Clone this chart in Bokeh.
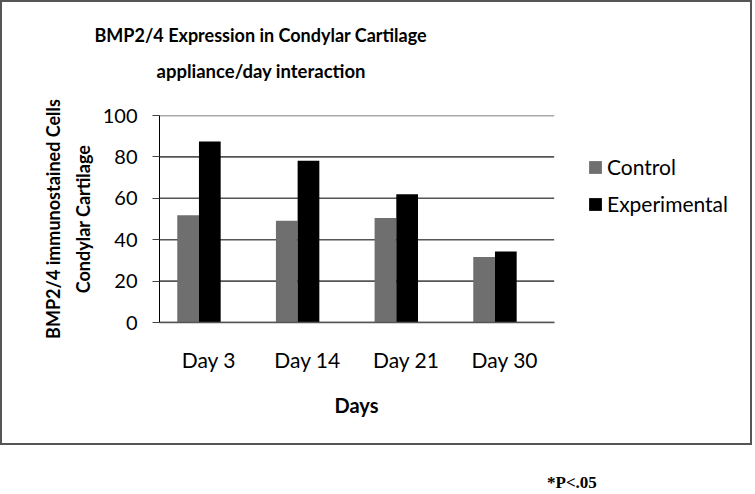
from bokeh.plotting import figure
from bokeh.layouts import column
from bokeh.models import (ColumnDataSource, Range1d, Legend, LegendItem,
                          FixedTicker, LinearAxis, Title, Div)
from bokeh.transform import dodge
from bokeh.embed import file_html
from bokeh.resources import INLINE

# ---- data ----
days = ["Day 3", "Day 14", "Day 21", "Day 30"]
control = [51.8, 49.2, 50.5, 31.7]
experimental = [87.4, 78.2, 62.0, 34.3]
y_ticks = [0, 20, 40, 60, 80, 100]
series_names = ["Control", "Experimental"]

FONT = "Lato"
W, H = 752, 445
FRAME_LEFT, FRAME_RIGHT_PAD = 157, 4
CAT_PX = 98.0                      # pixel width of one category slot
frame_w = W - 4 - FRAME_LEFT - FRAME_RIGHT_PAD
n = len(days)
idx = list(range(n))

src = ColumnDataSource(dict(idx=idx, day=days, control=control, experimental=experimental))
grid_src = ColumnDataSource(dict(y=y_ticks))

p = figure(width=W, height=H, output_backend="svg", toolbar_location=None,
           x_range=Range1d(-0.5, -0.5 + frame_w / CAT_PX),
           y_range=Range1d(0, 100),
           min_border_left=FRAME_LEFT, min_border_right=FRAME_RIGHT_PAD,
           min_border_top=113, min_border_bottom=125)
p.styles = {"border": "2px solid #555555"}
p.outline_line_color = None
p.background_fill_color = "white"
p.border_fill_color = "white"
p.xgrid.grid_line_color = None
p.ygrid.grid_line_color = None

# horizontal gridlines spanning only the category area
p.segment(x0=-0.5, x1=n - 0.5, y0="y", y1="y", source=grid_src,
          line_color="#555555", line_width=1.6)

r1 = p.vbar(x=dodge("idx", -0.21), top="control", width=0.22,
            source=src, fill_color="#6f6f6f", line_color=None)
r2 = p.vbar(x=dodge("idx", 0.01), top="experimental", width=0.22,
            source=src, fill_color="#000000", line_color=None)

# ---- y axis ----
p.yaxis.ticker = FixedTicker(ticks=y_ticks)
p.yaxis.major_tick_out = 7
p.yaxis.major_tick_in = 0
p.yaxis.minor_tick_line_color = None
p.yaxis.axis_line_color = "#000000"
p.yaxis.major_tick_line_color = "#444444"
p.yaxis.major_label_text_font = FONT
p.yaxis.major_label_text_font_size = "20px"
p.yaxis.major_label_text_color = "#000000"
p.yaxis.major_label_standoff = 15
p.yaxis.axis_label = "Condylar Cartilage"
p.yaxis.axis_label_text_font = FONT
p.yaxis.axis_label_text_font_style = "bold"
p.yaxis.axis_label_text_font_size = "18px"
p.yaxis.axis_label_text_color = "#000000"
p.yaxis.axis_label_standoff = 6

y2 = LinearAxis(ticker=FixedTicker(ticks=[]), axis_line_color=None,
                major_tick_line_color=None, minor_tick_line_color=None,
                major_tick_out=0, major_tick_in=0, major_label_text_font_size="0px",
                axis_label="BMP2/4 immunostained Cells", axis_label_text_font=FONT,
                axis_label_text_font_style="bold", axis_label_text_font_size="18px",
                axis_label_text_color="#000000", axis_label_standoff=5)
p.add_layout(y2, "left")

# ---- x axis ----
p.xaxis.ticker = FixedTicker(ticks=idx)
p.xaxis.major_label_overrides = {i: d for i, d in zip(idx, days)}
p.xaxis.bounds = (-0.5, n - 0.5)
p.xaxis.major_tick_line_color = None
p.xaxis.major_tick_out = 0
p.xaxis.major_tick_in = 0
p.xaxis.minor_tick_line_color = None
p.xaxis.axis_line_color = "#555555"
p.xaxis.axis_line_width = 1.6
p.xaxis.major_label_text_font = FONT
p.xaxis.major_label_text_font_size = "21px"
p.xaxis.major_label_text_color = "#000000"
p.xaxis.major_label_standoff = 24

# x axis title as a left-aligned title below the axis
p.add_layout(Title(text="Days", align="left", offset=175, standoff=33,
                   text_font=FONT, text_font_style="bold", text_font_size="20px",
                   text_color="#000000"), "below")

# ---- chart title (two lines) + spacer ----
def mk_title(txt, offset, standoff, size):
    return Title(text=txt, align="left", offset=offset, standoff=standoff,
                 text_font=FONT, text_font_style="bold",
                 text_font_size=size, text_color="#000000")

p.add_layout(mk_title(" ", 0, 5, "18.5px"), "above")
p.add_layout(mk_title("appliance/day interaction", -3, 9, "18.5px"), "above")
p.add_layout(mk_title("BMP2/4 Expression in Condylar Cartilage", -65, 15, "18px"), "above")

# ---- legend ----
legend = Legend(items=[LegendItem(label=series_names[0], renderers=[r1]),
                       LegendItem(label=series_names[1], renderers=[r2])],
                location=(428, 106), orientation="vertical",
                glyph_width=16, glyph_height=16, label_standoff=4,
                label_height=25, spacing=12, padding=0, margin=0,
                label_text_font=FONT, label_text_font_size="21px",
                label_text_color="#000000",
                border_line_color=None, background_fill_alpha=0)
p.add_layout(legend, "center")

# ---- footnote ----
note = Div(text="*P&lt;.05", width=80, height=24, margin=(26, 0, 0, 547),
           styles={"font-family": "Liberation Serif", "font-weight": "bold",
                   "font-size": "17px", "color": "#000000"})

layout = column(p, note, spacing=0)
open("out.html", "w").write(file_html(layout, INLINE))
